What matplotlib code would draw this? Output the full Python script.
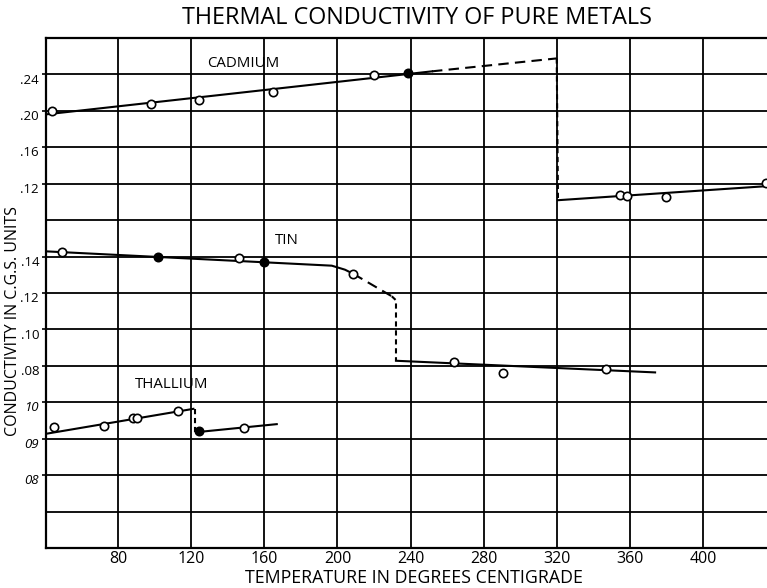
import matplotlib
matplotlib.use("Agg")
import matplotlib.pyplot as plt
from matplotlib.transforms import ScaledTranslation

plt.rcParams['font.family'] = ['Open Sans', 'DejaVu Sans']
plt.rcParams['font.weight'] = 'normal'

# ---------------- data (temperature in deg C, conductivity in c.g.s. units) -------------
temp_ticks = [80, 120, 160, 200, 240, 280, 320, 360, 400]

# Cadmium
cd_pts_T = [44, 98, 124, 165, 220]
cd_pts_k = [0.200, 0.208, 0.212, 0.221, 0.239]
cd_fill_T = [238.6]
cd_fill_k = [0.242]
cd_line1_T = [40, 251.7]
cd_line1_k = [0.196, 0.2434]
cd_dash_T = [251.7, 319.9]
cd_dash_k = [0.2434, 0.2576]
cd_drop_T = [319.9, 320.6]
cd_drop_k = [0.2576, 0.1019]
cd_line2_T = [320.6, 436]
cd_line2_k = [0.1019, 0.1175]
cd_pts2_T = [354.5, 358.2, 379.5, 434.2]
cd_pts2_k = [0.1080, 0.1060, 0.1056, 0.1209]

# Tin
sn_pts_T = [49.5, 146.3, 208.7, 263.7, 290.7, 346.7]
sn_pts_k = [0.1423, 0.1393, 0.1305, 0.0823, 0.0760, 0.0784]
sn_fill_T = [101.7, 159.8]
sn_fill_k = [0.1398, 0.1368]
sn_line1_T = [40, 196.9, 204.1, 208.7]
sn_line1_k = [0.1429, 0.1350, 0.1328, 0.1305]
sn_dash_T = [208.7, 229.7]
sn_dash_k = [0.1305, 0.1182]
sn_drop_T = [229.7, 232.0, 232.0]
sn_drop_k = [0.1182, 0.1160, 0.0828]
sn_line2_T = [232.0, 373.7]
sn_line2_k = [0.0828, 0.0764]

# Thallium
tl_pts_T = [45.2, 72.3, 88.0, 90.2, 112.6, 148.9]
tl_pts_k = [0.0933, 0.0935, 0.0957, 0.0957, 0.0975, 0.0929]
tl_fill_T = [124.3]
tl_fill_k = [0.0920]
tl_line1_T = [40, 121.2]
tl_line1_k = [0.0913, 0.0982]
tl_drop_T = [121.9, 121.9]
tl_drop_k = [0.0982, 0.0918]
tl_line2_T = [123.0, 166.8]
tl_line2_k = [0.0918, 0.0940]

# y tick labels of the three overlapping scales
cd_tick_k = [0.24, 0.20, 0.16, 0.12]
cd_tick_lab = ['.24', '.20', '.16', '.12']
sn_tick_k = [0.14, 0.12, 0.10, 0.08]
sn_tick_lab = ['.14', '.12', '.10', '.08']
tl_tick_k = [0.10, 0.09, 0.08]
tl_tick_lab = ['10', '09', '08']


# each metal is plotted on its own scale within the common grid (grid rows 0..14)
def cd_y(k):
    return [12 + (v - 0.20) / 0.04 for v in k]


def sn_y(k):
    return [8 + (v - 0.14) / 0.02 for v in k]


def tl_y(k):
    return [3 + (v - 0.09) / 0.01 for v in k]


W, H = 767, 588
fig = plt.figure(figsize=(W / 100, H / 100), dpi=100)
ax = fig.add_axes([46 / W, 1 - 548 / H, 1 - 46 / W, (548 - 38) / H])
ax.set_xlim(40.6, 434.9)
ax.set_ylim(0, 14)

# grid
for t in temp_ticks:
    ax.axvline(t, color='black', lw=1.3, zorder=1)
for r in range(1, 14):
    ax.axhline(r, color='black', lw=1.3, zorder=1)

for s in ['left', 'top', 'bottom']:
    ax.spines[s].set_linewidth(1.6)
ax.spines['right'].set_visible(False)

solid = dict(color='black', lw=1.5, zorder=3)
dashed = dict(color='black', lw=1.5, ls=(0, (5, 3)), zorder=3)
dotted = dict(color='black', lw=1.5, ls=(0, (2.5, 1.8)), zorder=3)
openm = dict(ls='none', marker='o', ms=6, mfc='white', mec='black', mew=1.2, zorder=4)
fillm = dict(ls='none', marker='o', ms=6, mfc='black', mec='black', mew=1.2, zorder=4)

# Cadmium
ax.plot(cd_line1_T, cd_y(cd_line1_k), **solid)
ax.plot(cd_dash_T, cd_y(cd_dash_k), **dashed)
ax.plot(cd_drop_T, cd_y(cd_drop_k), **dotted)
ax.plot(cd_line2_T, cd_y(cd_line2_k), **solid)
ax.plot(cd_pts_T, cd_y(cd_pts_k), **openm)
ax.plot(cd_fill_T, cd_y(cd_fill_k), **fillm)
ax.plot(cd_pts2_T, cd_y(cd_pts2_k), clip_on=False, **openm)

# Tin
ax.plot(sn_line1_T, sn_y(sn_line1_k), **solid)
ax.plot(sn_dash_T, sn_y(sn_dash_k), **dashed)
ax.plot(sn_drop_T, sn_y(sn_drop_k), **dotted)
ax.plot(sn_line2_T, sn_y(sn_line2_k), **solid)
ax.plot(sn_pts_T, sn_y(sn_pts_k), **openm)
ax.plot(sn_fill_T, sn_y(sn_fill_k), **fillm)

# Thallium
ax.plot(tl_line1_T, tl_y(tl_line1_k), **solid)
ax.plot(tl_drop_T, tl_y(tl_drop_k), **dotted)
ax.plot(tl_line2_T, tl_y(tl_line2_k), **solid)
ax.plot(tl_pts_T, tl_y(tl_pts_k), **openm)
ax.plot(tl_fill_T, tl_y(tl_fill_k), **fillm)

# metal names
ax.text(128.7, 13.31, 'CADMIUM', fontsize=10.8, ha='left', va='center', zorder=5)
ax.text(165.9, 8.45, 'TIN', fontsize=10.8, ha='left', va='center', zorder=5)
ax.text(89.3, 4.50, 'THALLIUM', fontsize=10.8, ha='left', va='center', zorder=5)

# x ticks
ax.set_xticks(temp_ticks)
ax.set_xticklabels([str(t) for t in temp_ticks], fontsize=11.5)
ax.tick_params(axis='x', length=0, pad=2)

# y ticks (three scales)
ypos = cd_y(cd_tick_k) + sn_y(sn_tick_k) + tl_y(tl_tick_k)
ylab = cd_tick_lab + sn_tick_lab + tl_tick_lab
ax.set_yticks(ypos)
ax.set_yticklabels(ylab, fontsize=9.5)
ax.tick_params(axis='y', length=3, width=1.2, pad=2, direction='out')
off = ScaledTranslation(0, -3 / 72, fig.dpi_scale_trans)
for lab in ax.get_yticklabels():
    lab.set_transform(lab.get_transform() + off)
    if lab.get_text() in tl_tick_lab:
        lab.set_fontstyle('italic')

fig.text(417 / W, 1 - 18 / H, 'THERMAL CONDUCTIVITY OF PURE METALS',
         fontsize=16.8, ha='center', va='center')
fig.text(413.5 / W, 1 - 578 / H, 'TEMPERATURE IN DEGREES CENTIGRADE',
         fontsize=12.8, ha='center', va='center')
fig.text(13 / W, 1 - 321 / H, 'CONDUCTIVITY IN C.G.S. UNITS',
         fontsize=11.5, ha='center', va='center', rotation=90)

fig.savefig('out.png', dpi=100)
